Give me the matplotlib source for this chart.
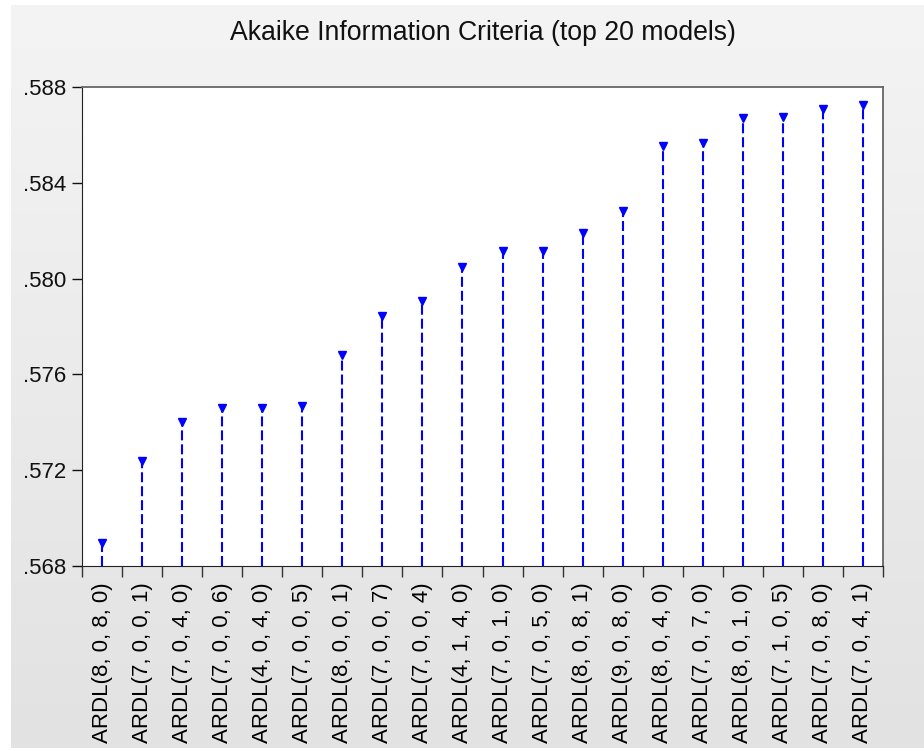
import matplotlib
matplotlib.use('Agg')
import matplotlib.pyplot as plt
from matplotlib.ticker import FuncFormatter, FixedLocator
import numpy as np

plt.rcParams['font.family'] = ['Liberation Sans', 'DejaVu Sans']

models = ['ARDL(8, 0, 8, 0)', 'ARDL(7, 0, 0, 1)', 'ARDL(7, 0, 4, 0)', 'ARDL(7, 0, 0, 6)',
          'ARDL(4, 0, 4, 0)', 'ARDL(7, 0, 0, 5)', 'ARDL(8, 0, 0, 1)', 'ARDL(7, 0, 0, 7)',
          'ARDL(7, 0, 0, 4)', 'ARDL(4, 1, 4, 0)', 'ARDL(7, 0, 1, 0)', 'ARDL(7, 0, 5, 0)',
          'ARDL(8, 0, 8, 1)', 'ARDL(9, 0, 8, 0)', 'ARDL(8, 0, 4, 0)', 'ARDL(7, 0, 7, 0)',
          'ARDL(8, 0, 1, 0)', 'ARDL(7, 1, 0, 5)', 'ARDL(7, 0, 8, 0)', 'ARDL(7, 0, 4, 1)']
aic = [0.56896, 0.57238, 0.57401, 0.57460, 0.57460, 0.57466, 0.57681, 0.57844,
       0.57906, 0.58048, 0.58115, 0.58115, 0.58190, 0.58282, 0.58554, 0.58566,
       0.58671, 0.58675, 0.58708, 0.58725]
y_ticks = [0.568, 0.572, 0.576, 0.580, 0.584, 0.588]
y_min, y_max = 0.568, 0.588

fig = plt.figure(figsize=(9.24, 7.51), dpi=100, facecolor='white')

# grey gradient panel behind the chart (EViews style)
bg = fig.add_axes([11 / 924, 3 / 751, 913 / 924, 743 / 751])
grad = np.linspace(0, 1, 256).reshape(-1, 1)
bg.imshow(grad, aspect='auto', cmap=matplotlib.colors.LinearSegmentedColormap.from_list(
    'g', ['#f4f4f4', '#e2e2e2']), extent=[0, 1, 0, 1], origin='upper')
bg.set_axis_off()

ax = fig.add_axes([82 / 924, (751 - 566) / 751, 801 / 924, 479 / 751])
ax.set_facecolor('white')

x = np.arange(len(models))
ax.vlines(x, y_min, aic, colors='#0000ff', linewidth=1.5, linestyles=(0, (4.8, 1.9)))
ax.plot(x, aic, linestyle='none', marker='v', color='#0000ff', markersize=6)

ax.set_xlim(-0.5, len(models) - 0.5)
ax.set_ylim(y_min, y_max)

ax.yaxis.set_major_locator(FixedLocator(y_ticks))
ax.yaxis.set_major_formatter(FuncFormatter(lambda v, p: ('%.3f' % v).lstrip('0')))
ax.tick_params(axis='y', direction='out', length=7, width=1, labelsize=16, pad=4, colors='#111111')

ax.set_xticks(x)
ax.set_xticklabels(models, rotation=90, fontsize=16)
ax.set_xticks(np.arange(-0.5, len(models)), minor=True)
ax.tick_params(axis='x', which='major', length=0, pad=12)
ax.tick_params(axis='x', which='minor', direction='out', length=8, width=1, color='#333333')

for side in ['left', 'bottom']:
    ax.spines[side].set_color('#222222')
for side in ['top', 'right']:
    ax.spines[side].set_color('#666666')
    ax.spines[side].set_linewidth(1.3)

fig.text(483 / 924, 1 - 33 / 751, 'Akaike Information Criteria (top 20 models)',
         ha='center', va='center', fontsize=19.2, color='#111111')

fig.savefig('out.png', dpi=100, facecolor='white')
